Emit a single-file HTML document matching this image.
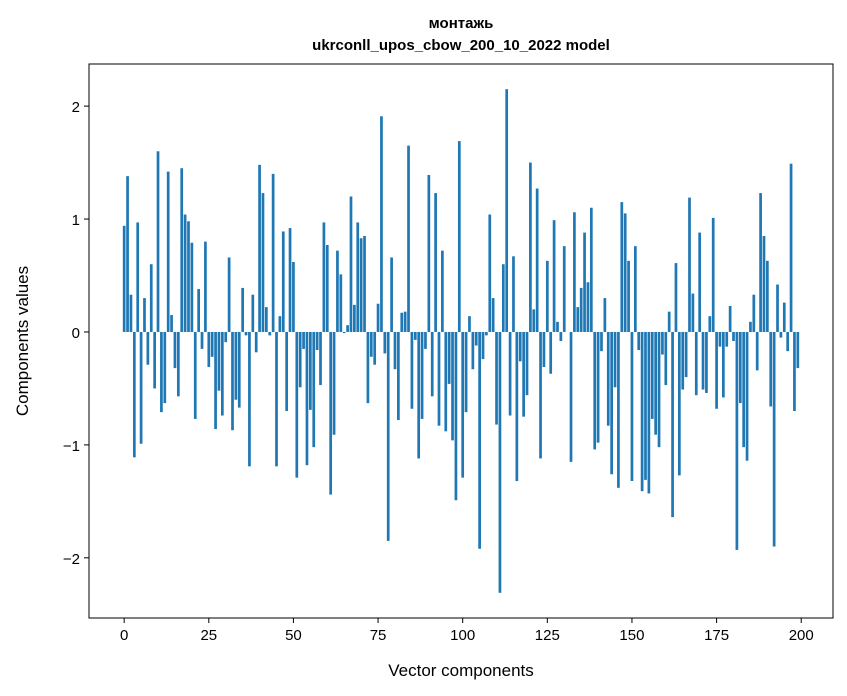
<!DOCTYPE html>
<html><head><meta charset="utf-8"><style>
body{margin:0;background:#fff;}
svg{display:block;font-family:"Liberation Sans","DejaVu Sans",sans-serif;}
</style></head><body>
<svg id="chart" width="847" height="696" viewBox="0 0 847 696" xmlns="http://www.w3.org/2000/svg">
<rect x="0" y="0" width="847" height="696" fill="#fff"/>
<text x="461" y="28" text-anchor="middle" font-size="15" font-weight="bold">монтажь</text>
<text x="461" y="50" text-anchor="middle" font-size="15" font-weight="bold">ukrconll_upos_cbow_200_10_2022 model</text>
<g id="bars"></g>
<g id="xticks"></g>
<g id="yticks"></g>
<rect x="89" y="64" width="744" height="554" fill="none" stroke="#000" stroke-width="1"/>
<text x="461" y="676" text-anchor="middle" font-size="17">Vector components</text>
<text transform="translate(28,341) rotate(-90)" text-anchor="middle" font-size="17">Components values</text>
</svg>
<script>
const values = [0.94,1.38,0.33,-1.11,0.97,-0.99,0.30,-0.29,0.60,-0.50,
1.60,-0.71,-0.63,1.42,0.15,-0.32,-0.57,1.45,1.04,0.98,
0.79,-0.77,0.38,-0.15,0.80,-0.31,-0.22,-0.86,-0.52,-0.74,
-0.09,0.66,-0.87,-0.60,-0.67,0.39,-0.03,-1.19,0.33,-0.18,
1.48,1.23,0.22,-0.03,1.40,-1.19,0.14,0.89,-0.70,0.92,
0.62,-1.29,-0.49,-0.15,-1.18,-0.69,-1.02,-0.16,-0.47,0.97,
0.77,-1.44,-0.91,0.72,0.51,-0.01,0.06,1.20,0.24,0.97,
0.83,0.85,-0.63,-0.22,-0.29,0.25,1.91,-0.19,-1.85,0.66,
-0.33,-0.78,0.17,0.18,1.65,-0.68,-0.07,-1.12,-0.77,-0.15,
1.39,-0.57,1.23,-0.83,0.72,-0.88,-0.46,-0.96,-1.49,1.69,
-1.29,-0.71,0.14,-0.33,-0.12,-1.92,-0.24,-0.03,1.04,0.30,
-0.82,-2.31,0.60,2.15,-0.74,0.67,-1.32,-0.26,-0.75,-0.56,
1.50,0.20,1.27,-1.12,-0.31,0.63,-0.37,0.99,0.09,-0.08,
0.76,0.00,-1.15,1.06,0.22,0.39,0.88,0.44,1.10,-1.04,
-0.98,-0.17,0.30,-0.83,-1.26,-0.49,-1.38,1.15,1.05,0.63,
-1.32,0.76,-0.16,-1.41,-1.31,-1.43,-0.77,-0.91,-1.02,-0.20,
-0.47,0.18,-1.64,0.61,-1.27,-0.51,-0.40,1.19,0.34,-0.56,
0.88,-0.51,-0.54,0.14,1.01,-0.68,-0.13,-0.58,-0.13,0.23,
-0.08,-1.93,-0.63,-1.02,-1.14,0.09,0.33,-0.34,1.23,0.85,
0.63,-0.66,-1.90,0.42,-0.05,0.26,-0.17,1.49,-0.70,-0.32];
const xTickValues = [0,25,50,75,100,125,150,175,200];
const yTickValues = [-2,-1,0,1,2];

const NS = "http://www.w3.org/2000/svg";
const L = 89, R = 833, T = 64, B = 618;
const n = values.length;
const xmin0 = -0.4, xmax0 = n - 1 + 0.4;
const xpad = (xmax0 - xmin0) * 0.05;
const xmin = xmin0 - xpad, xmax = xmax0 + xpad;
const dmin = Math.min(0, ...values), dmax = Math.max(0, ...values);
const ypad = (dmax - dmin) * 0.05;
const ymin = dmin - ypad, ymax = dmax + ypad;
function xs(v){ return L + (v - xmin) / (xmax - xmin) * (R - L); }
function ys(v){ return B - (v - ymin) / (ymax - ymin) * (B - T); }

const bars = document.getElementById('bars');
values.forEach((v, i) => {
  const r = document.createElementNS(NS, 'rect');
  const x0 = xs(i - 0.4), x1 = xs(i + 0.4);
  const y0 = ys(Math.max(v, 0)), y1 = ys(Math.min(v, 0));
  r.setAttribute('x', x0);
  r.setAttribute('width', x1 - x0);
  r.setAttribute('y', y0);
  r.setAttribute('height', Math.max(y1 - y0, 0));
  r.setAttribute('fill', '#1f77b4');
  
  
  bars.appendChild(r);
});

const xg = document.getElementById('xticks');
xTickValues.forEach(t => {
  const x = xs(t);
  const ln = document.createElementNS(NS, 'line');
  ln.setAttribute('x1', x); ln.setAttribute('x2', x);
  ln.setAttribute('y1', B); ln.setAttribute('y2', B + 5);
  ln.setAttribute('stroke', '#000');
  
  
  xg.appendChild(ln);
  const tx = document.createElementNS(NS, 'text');
  tx.setAttribute('x', x); tx.setAttribute('y', B + 22);
  tx.setAttribute('text-anchor', 'middle');
  tx.setAttribute('font-size', '15');
  tx.textContent = String(t);
  
  
  xg.appendChild(tx);
});

const yg = document.getElementById('yticks');
yTickValues.forEach(t => {
  const y = ys(t);
  const ln = document.createElementNS(NS, 'line');
  ln.setAttribute('x1', L - 5); ln.setAttribute('x2', L);
  ln.setAttribute('y1', y); ln.setAttribute('y2', y);
  ln.setAttribute('stroke', '#000');
  
  
  yg.appendChild(ln);
  const tx = document.createElementNS(NS, 'text');
  tx.setAttribute('x', L - 9); tx.setAttribute('y', y + 6);
  tx.setAttribute('text-anchor', 'end');
  tx.setAttribute('font-size', '15');
  tx.textContent = t < 0 ? '\u2212' + Math.abs(t) : String(t);
  
  
  yg.appendChild(tx);
});
</script>
</body></html>
